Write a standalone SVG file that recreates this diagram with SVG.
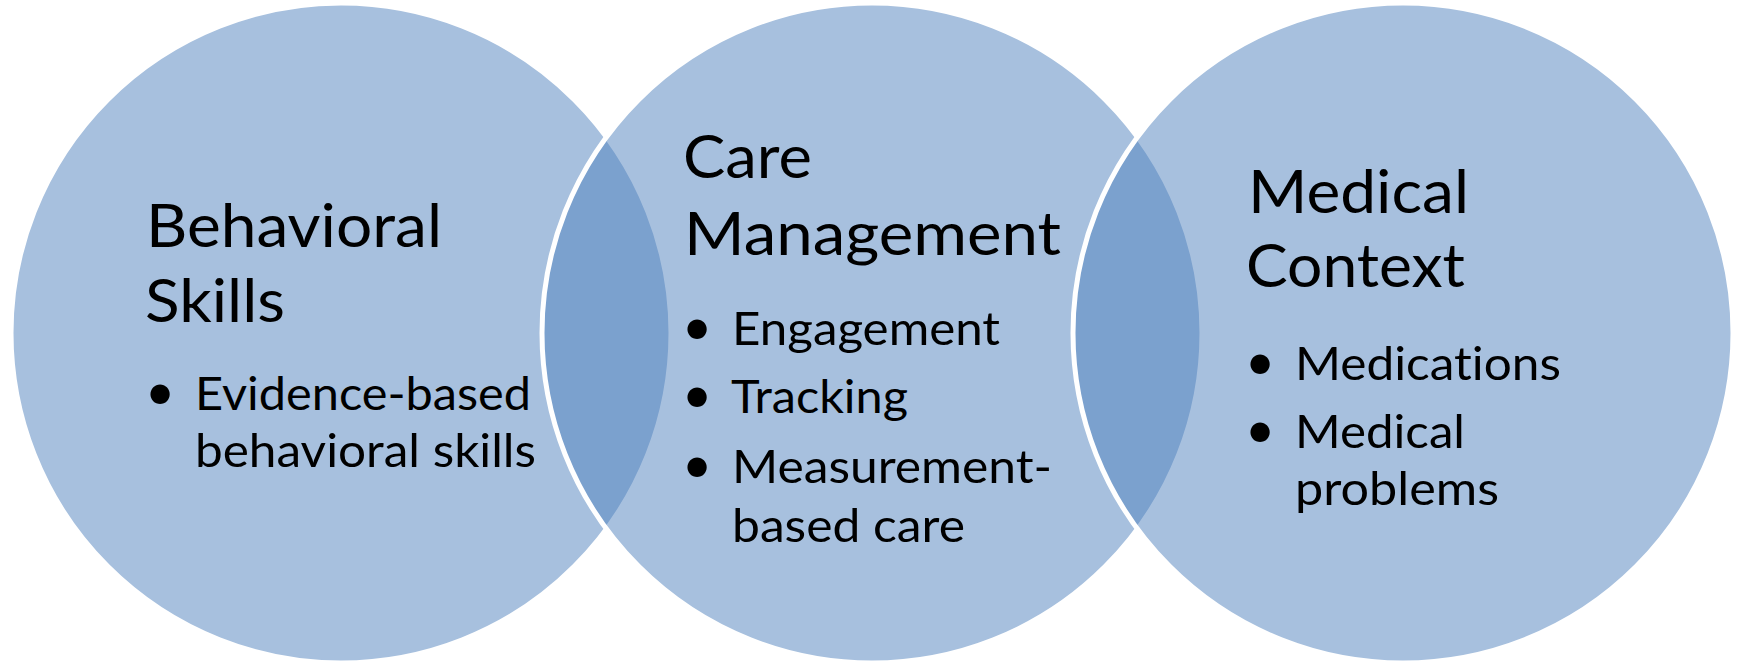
<svg xmlns="http://www.w3.org/2000/svg" width="1741" height="667" viewBox="0 0 1741 667">
  <style>
    .ring { fill: #4F81BD; fill-opacity: 0.5; stroke: #FFFFFF; stroke-width: 5; }
    text { font-family: "Lato", "Open Sans", sans-serif; fill: #000000; font-variant-ligatures: none; }
    .title { font-size: 60px; }
    .item { font-size: 47px; }
    .dot { font-size: 52px; text-anchor: middle; }
  </style>
  <rect width="1741" height="667" fill="#FFFFFF"/>

  <!-- Behavioral Skills -->
  <g id="behavioral-skills">
    <circle class="ring" cx="341" cy="333" r="330"/>
    <text class="title" x="146" y="247" textLength="296" lengthAdjust="spacingAndGlyphs">Behavioral</text>
    <text class="title" x="145" y="322" textLength="140" lengthAdjust="spacingAndGlyphs">Skills</text>
    <text class="dot" x="160" y="410">•</text>
    <text class="item" x="195" y="410" textLength="336" lengthAdjust="spacingAndGlyphs">Evidence-based</text>
    <text class="item" x="195" y="467" textLength="341" lengthAdjust="spacingAndGlyphs">behavioral skills</text>
  </g>

  <!-- Care Management -->
  <g id="care-management">
    <circle class="ring" cx="872" cy="333" r="330"/>
    <text class="title" x="683" y="178" textLength="129" lengthAdjust="spacingAndGlyphs">Care</text>
    <text class="title" x="684" y="255" textLength="377" lengthAdjust="spacingAndGlyphs">Management</text>
    <text class="dot" x="697" y="345">•</text>
    <text class="item" x="732" y="345" textLength="268" lengthAdjust="spacingAndGlyphs">Engagement</text>
    <text class="dot" x="697" y="413">•</text>
    <text class="item" x="731" y="413" textLength="177" lengthAdjust="spacingAndGlyphs">Tracking</text>
    <text class="dot" x="697" y="483">•</text>
    <text class="item" x="732" y="483" textLength="320" lengthAdjust="spacingAndGlyphs">Measurement-</text>
    <text class="item" x="732" y="542" textLength="233" lengthAdjust="spacingAndGlyphs">based care</text>
  </g>

  <!-- Medical Context -->
  <g id="medical-context">
    <circle class="ring" cx="1403" cy="333" r="330"/>
    <text class="title" x="1248" y="213" textLength="221" lengthAdjust="spacingAndGlyphs">Medical</text>
    <text class="title" x="1246" y="287" textLength="219" lengthAdjust="spacingAndGlyphs">Context</text>
    <text class="dot" x="1260" y="380">•</text>
    <text class="item" x="1295" y="380" textLength="266" lengthAdjust="spacingAndGlyphs">Medications</text>
    <text class="dot" x="1260" y="448">•</text>
    <text class="item" x="1295" y="448" textLength="170" lengthAdjust="spacingAndGlyphs">Medical</text>
    <text class="item" x="1295" y="505" textLength="204" lengthAdjust="spacingAndGlyphs">problems</text>
  </g>
</svg>
